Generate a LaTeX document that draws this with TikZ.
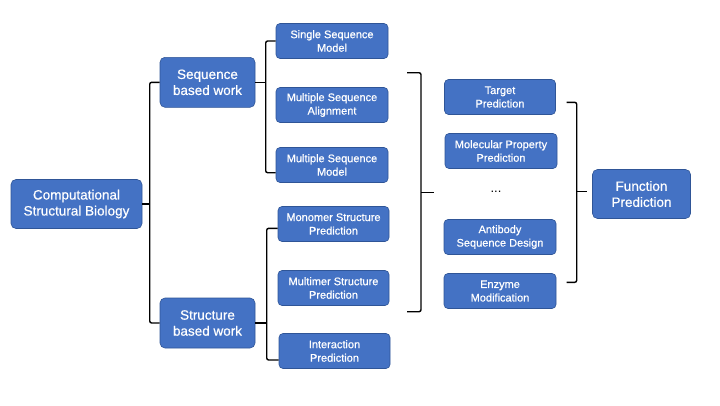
\documentclass[tikz,border=0pt]{standalone}
\usepackage{fontspec}
\setmainfont{Liberation Sans}
\newfontfamily\boxfont[FakeBold=0.6]{Liberation Sans}
\definecolor{boxfill}{HTML}{4472C4}
\definecolor{boxline}{HTML}{2F5597}
\begin{document}
\begin{tikzpicture}[x=1pt,y=-1pt,
  box/.style={draw=boxline,line width=0.6pt,fill=boxfill,rounded corners=5pt,text=white,align=center,inner sep=0pt},
  bigbox/.style={box,font=\boxfont\fontsize{13.5}{16}\selectfont,minimum height=49pt},
  smallbox/.style={box,font=\boxfont\fontsize{11}{13.5}\selectfont,minimum height=35pt,rounded corners=4pt},
  br/.style={draw=black,line width=1.4pt,rounded corners=2pt}]
\useasboundingbox (0,0) rectangle (720,405);
\fill[white] (0,0) rectangle (720,405);

\node[bigbox,minimum width=131pt] (csb) at (76.5,204) {Computational\\Structural Biology};
\node[bigbox,minimum width=95pt,minimum height=50pt] (seq) at (207.5,82.3) {Sequence\\based work};
\node[bigbox,minimum width=95pt,minimum height=50pt] (str) at (207.5,323) {Structure\\based work};

\node[smallbox,minimum width=112pt] (ssm) at (332,41) {Single Sequence\\Model};
\node[smallbox,minimum width=112pt] (msa) at (332,105) {Multiple Sequence\\Alignment};
\node[smallbox,minimum width=112pt] (msm) at (332,165) {Multiple Sequence\\Model};
\node[smallbox,minimum width=111pt] (mon) at (333.5,224) {Monomer Structure\\Prediction};
\node[smallbox,minimum width=111pt] (mul) at (333.5,288) {Multimer Structure\\Prediction};
\node[smallbox,minimum width=111pt] (int) at (334.5,351) {Interaction\\Prediction};

\node[smallbox,minimum width=111pt] (tp) at (500,97) {Target\\Prediction};
\node[smallbox,minimum width=112pt] (mpp) at (501,151) {Molecular Property\\Prediction};
\node[font=\fontsize{13}{15}\selectfont,inner sep=0pt] (dots) at (496,192) {...};
\node[smallbox,minimum width=112pt] (asd) at (500,237) {Antibody\\Sequence Design};
\node[smallbox,minimum width=112pt] (em) at (500,291) {Enzyme\\Modification};

\node[bigbox,minimum width=98pt] (fp) at (641.5,194) {Function\\Prediction};

% CSB bracket
\draw[br] (seq.west) -- ++(-10,0) |- (str.west);
\draw[br] (csb.east) -- ([xshift=-10pt]seq.west |- csb.east);

% sequence bracket
\draw[br] (ssm.west) -- (265.7,41) -- (265.7,172.7) -- ([yshift=-7.7pt]msm.west);
\draw[br] (seq.east) -- (265.7,82.3);

% structure bracket
\draw[br] ([yshift=-4.3pt]mon.west) -- (266.7,228.3) -- (266.7,360) -- ([yshift=-9pt]int.west);
\draw[br] (str.east) -- (266.7,323);

% big brace
\coordinate (b1t) at (407,72.7);
\coordinate (b1b) at (407,311.7);
\coordinate (b1m) at (421,192.3);
\coordinate (b1tip) at (434,192.3);
\draw[br] (b1t) -- (421,72.7) -- (421,311.7) -- (b1b);
\draw[br,rounded corners=0pt] (b1m) -- (b1tip);

% right brace
\coordinate (b2t) at (566.7,102.3);
\coordinate (b2b) at (566.7,282.3);
\coordinate (b2m) at (576.7,191.7);
\coordinate (b2tip) at (586.7,191.7);
\draw[br] (b2t) -- (576.7,102.3) -- (576.7,282.3) -- (b2b);
\draw[br,rounded corners=0pt] (b2m) -- (b2tip);
\end{tikzpicture}
\end{document}
